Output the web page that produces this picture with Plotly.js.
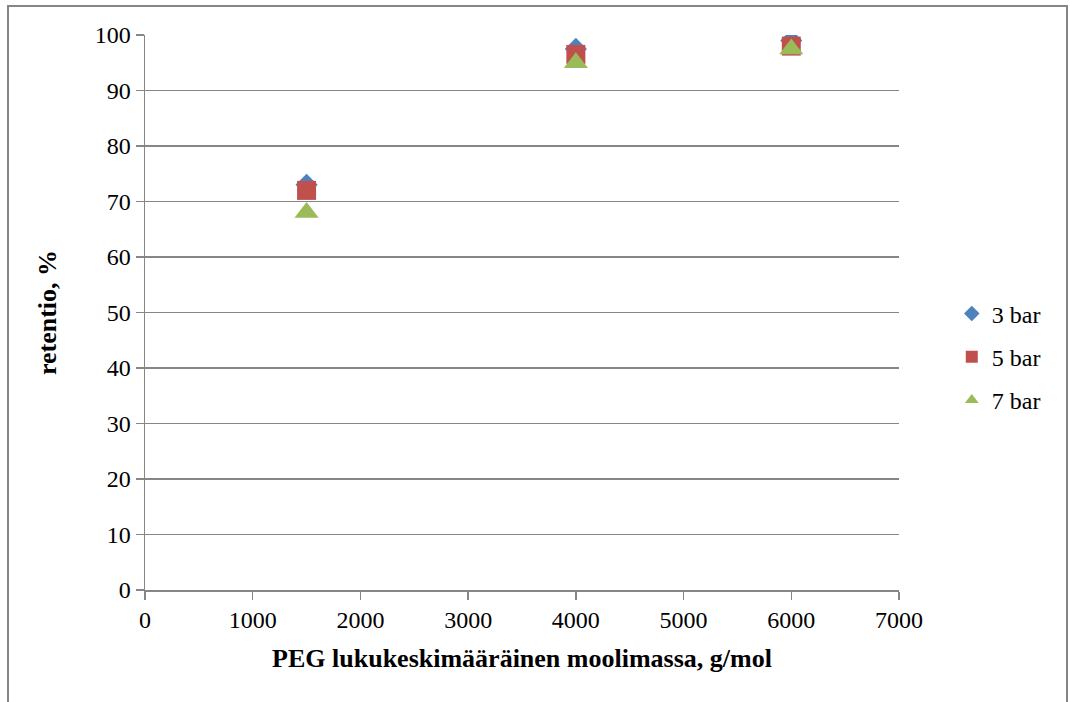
<!DOCTYPE html>
<html>
<head>
<meta charset="utf-8">
<script src="https://cdn.plot.ly/plotly-3.0.1.min.js"></script>
</head>
<body style="margin:0;padding:0;background:#fff">
<div id="chart" style="width:1070px;height:702px"></div>
<script>
const molarMass = [1500, 4000, 6000];
const bar3 = [73, 97.5, 99];
const bar5 = [72, 96.5, 98];
const bar7 = [68, 95, 97.5];
const seriesNames = ['3 bar', '5 bar', '7 bar'];
const xTicks = [0, 1000, 2000, 3000, 4000, 5000, 6000, 7000];
const yTicks = [0, 10, 20, 30, 40, 50, 60, 70, 80, 90, 100];

const serif = "Nimbus Roman, Tinos, Liberation Serif, Times New Roman, serif";
const traces = [
  {x: molarMass, y: bar3, name: seriesNames[0], legendgroup: 'a', mode: 'markers', type: 'scatter',
   marker: {symbol: 'diamond', size: 17, color: '#4F81BD'}},
  {x: molarMass, y: bar5, name: seriesNames[1], legendgroup: 'b', mode: 'markers', type: 'scatter',
   marker: {symbol: 'square', size: 19, color: '#C0504D'}},
  {x: molarMass, y: bar7, name: seriesNames[2], legendgroup: 'c', mode: 'markers', type: 'scatter',
   marker: {symbol: 'triangle-up', size: 21, color: '#9BBB59'}}
];
const layout = {
  width: 1070, height: 702,
  margin: {l: 145, r: 171, t: 35, b: 112},
  font: {family: serif, size: 24, color: '#000'},
  showlegend: true,
  legend: {x: 1.07, y: 0.42, yanchor: 'middle', xanchor: 'left',
           itemsizing: 'constant', itemwidth: 30, tracegroupgap: 9},
  xaxis: {range: [0, 7000], tickvals: xTicks, ticktext: xTicks.map(String),
          showgrid: false, zeroline: false, showline: true, linecolor: '#868686', linewidth: 1.5,
          ticks: 'outside', ticklen: 8, tickcolor: '#868686', tickwidth: 1.5,
          title: {text: '<b>PEG lukukeskimääräinen moolimassa, g/mol</b>', font: {size: 26}, standoff: 16}},
  yaxis: {range: [0, 100], tickvals: yTicks, ticktext: yTicks.map(String),
          showgrid: true, gridcolor: '#868686', gridwidth: 1.5, zeroline: false,
          showline: true, linecolor: '#868686', linewidth: 1.5,
          ticks: 'outside', ticklen: 8, tickcolor: '#868686', tickwidth: 1.5,
          title: {text: '<b>retentio, %</b>', font: {size: 26}, standoff: 30}},
  shapes: [
    {type: 'rect', xref: 'paper', yref: 'paper', x0: -0.1817, x1: 1.2228, y0: -0.25, y1: 1.0523,
     line: {color: '#868686', width: 2}, fillcolor: 'rgba(0,0,0,0)'}
  ]
};
Plotly.newPlot('chart', traces, layout, {staticPlot: true});
</script>
</body>
</html>
